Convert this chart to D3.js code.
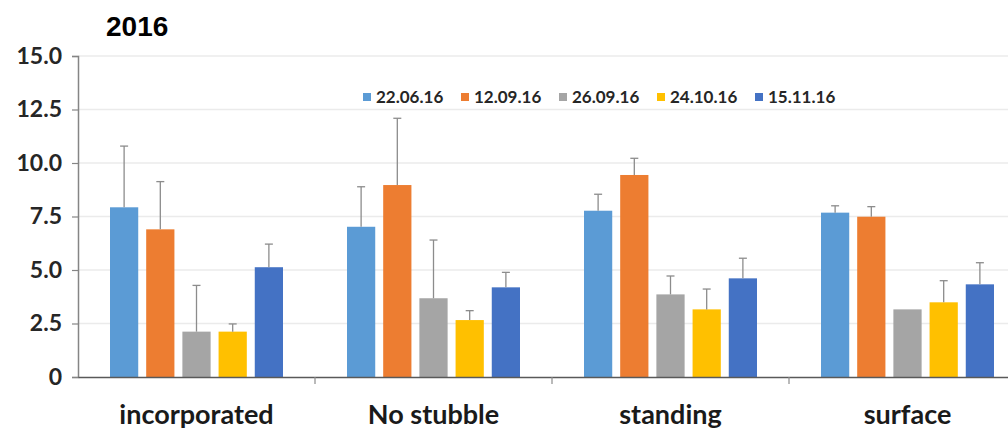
<!DOCTYPE html>
<html>
<head>
<meta charset="utf-8">
<script src="https://cdn.jsdelivr.net/npm/d3@7"></script>
<style>
  html, body { margin: 0; padding: 0; background: #ffffff; }
  svg { display: block; }
</style>
</head>
<body>
<svg id="chart" width="1008" height="429"></svg>
<script>
// Treatments along the x axis
const categories = ["incorporated", "No stubble", "standing", "surface"];
// Sampling dates (one bar per date in every treatment)
const seriesNames = ["22.06.16", "12.09.16", "26.09.16", "24.10.16", "15.11.16"];
const seriesColors = ["#5b9bd5", "#ed7d31", "#a5a5a5", "#ffc000", "#4472c4"];
// Mean values per date, ordered as categories
const s220616 = [7.93, 7.02, 7.77, 7.68];
const s120916 = [6.90, 8.97, 9.44, 7.49];
const s260916 = [2.12, 3.68, 3.86, 3.16];
const s241016 = [2.12, 2.66, 3.16, 3.49];
const s151116 = [5.13, 4.19, 4.61, 4.33];
// Upper error bar ends (mean + error)
const e220616 = [10.79, 8.89, 8.54, 8.00];
const e120916 = [9.13, 12.09, 10.22, 7.96];
const e260916 = [4.28, 6.40, 4.72, 3.16];
const e241016 = [2.48, 3.10, 4.11, 4.50];
const e151116 = [6.21, 4.89, 5.55, 5.34];
// Value axis ticks
const tickValues = [0, 2.5, 5, 7.5, 10, 12.5, 15];
const tickLabels = ["0", "2.5", "5.0", "7.5", "10.0", "12.5", "15.0"];
const title = "2016";

const means = [s220616, s120916, s260916, s241016, s151116];
const tops = [e220616, e120916, e260916, e241016, e151116];

const svg = d3.select("#chart");
const left = 78, bottom = 377, topY = 56, catW = 237;
const labelFont = "Lato, 'Open Sans', sans-serif";

const y = d3.scaleLinear().domain([0, 15]).range([bottom, topY]);
const x0 = d3.scaleBand().domain(categories).range([left, left + catW * categories.length]);
const x1 = d3.scaleBand().domain(seriesNames).range([32, catW - 32]).paddingInner(0.22);

// Horizontal gridlines
svg.append("g")
  .selectAll("line")
  .data(tickValues.filter(v => v > 0))
  .join("line")
  .attr("x1", left).attr("x2", 1008)
  .attr("y1", d => y(d)).attr("y2", d => y(d))
  .attr("stroke", "#ebebeb").attr("stroke-width", 1.5);

// Bars
const groups = svg.append("g")
  .selectAll("g")
  .data(categories)
  .join("g")
  .attr("transform", c => `translate(${x0(c)},0)`);

groups.each(function(c, ci) {
  const g = d3.select(this);
  seriesNames.forEach((s, si) => {
    const v = means[si][ci];
    g.append("rect")
      .attr("x", x1(s))
      .attr("width", x1.bandwidth())
      .attr("y", y(v))
      .attr("height", y(0) - y(v))
      .attr("fill", seriesColors[si]);
  });
  // Error bars (upper only)
  seriesNames.forEach((s, si) => {
    const v = means[si][ci], t = tops[si][ci];
    if (t <= v) return;
    const cx = x1(s) + x1.bandwidth() / 2;
    g.append("line")
      .attr("x1", cx).attr("x2", cx)
      .attr("y1", y(v)).attr("y2", y(t))
      .attr("stroke", "#8c8c8c").attr("stroke-width", 1.3);
    g.append("line")
      .attr("x1", cx - 4).attr("x2", cx + 4)
      .attr("y1", y(t)).attr("y2", y(t))
      .attr("stroke", "#8c8c8c").attr("stroke-width", 1.3);
  });
});

// Value axis
const yAxis = d3.axisLeft(y)
  .tickValues(tickValues)
  .tickFormat((d, i) => tickLabels[i])
  .tickSize(6)
  .tickPadding(10);
const gy = svg.append("g").attr("transform", `translate(${left},0)`).call(yAxis);
gy.select(".domain").attr("stroke", "#858585").attr("stroke-width", 1.5);
gy.selectAll(".tick line").attr("stroke", "#858585").attr("stroke-width", 1.2);
gy.selectAll(".tick text")
  .attr("font-family", labelFont).attr("font-weight", "bold")
  .attr("font-size", 23).attr("fill", "#262626");

// Category axis
const xAxis = d3.axisBottom(x0).tickSize(0);
const gx = svg.append("g").attr("transform", `translate(0,${bottom})`).call(xAxis);
gx.select(".domain").attr("stroke", "#595959").attr("stroke-width", 1.5);
gx.selectAll(".tick text")
  .attr("y", 47).attr("dy", null)
  .attr("font-family", labelFont).attr("font-weight", "bold")
  .attr("font-size", 27).attr("fill", "#1a1a1a");
// Separator ticks between categories
gx.append("g")
  .selectAll("line")
  .data(categories.slice(1))
  .join("line")
  .attr("x1", c => x0(c)).attr("x2", c => x0(c))
  .attr("y1", 0).attr("y2", 7)
  .attr("stroke", "#8c8c8c").attr("stroke-width", 1.2);

// Legend
const legend = svg.append("g").attr("transform", "translate(363,97)");
const legendStep = 98;
seriesNames.forEach((s, i) => {
  const lg = legend.append("g").attr("transform", `translate(${i * legendStep},0)`);
  lg.append("rect").attr("x", 0).attr("y", -4).attr("width", 8).attr("height", 8)
    .attr("fill", seriesColors[i]);
  lg.append("text").attr("x", 13).attr("y", 0).attr("dy", "0.35em")
    .attr("font-family", labelFont).attr("font-weight", "bold")
    .attr("font-size", 17).attr("fill", "#262626")
    .text(s);
});

// Title
svg.append("text")
  .attr("x", 106).attr("y", 36)
  .attr("font-family", "'Liberation Sans', Arial, sans-serif")
  .attr("font-weight", "bold").attr("font-size", 28).attr("fill", "#000")
  .text(title);
</script>
</body>
</html>
